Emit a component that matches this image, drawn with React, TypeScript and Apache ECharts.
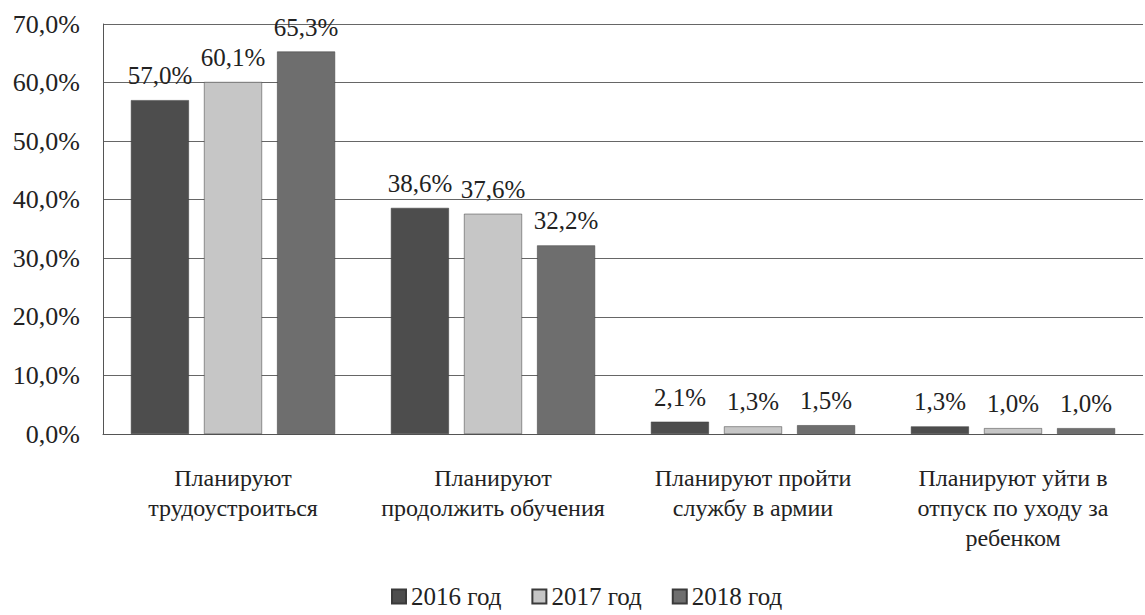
import React, { useEffect, useRef } from "react";
import * as echarts from "echarts";

const categories = [
  "Планируют\nтрудоустроиться",
  "Планируют\nпродолжить обучения",
  "Планируют пройти\nслужбу в армии",
  "Планируют уйти в\nотпуск по уходу за\nребенком",
];
const seriesNames = ["2016 год", "2017 год", "2018 год"];
const values2016 = [57.0, 38.6, 2.1, 1.3];
const values2017 = [60.1, 37.6, 1.3, 1.0];
const values2018 = [65.3, 32.2, 1.5, 1.0];
const colors = ["#4d4d4d", "#c6c6c6", "#6e6e6e"];

const FONT = "Liberation Serif, Times New Roman, serif";
const fmt = (v: number) => v.toFixed(1).replace(".", ",") + "%";

export default function App() {
  const ref = useRef<HTMLDivElement>(null);
  useEffect(() => {
    if (!ref.current) return;
    const chart = echarts.init(ref.current, undefined, { renderer: "svg" });
    const data = [values2016, values2017, values2018];
    chart.setOption({
      animation: false,
      backgroundColor: "#ffffff",
      grid: { left: 103, right: 2, top: 24, bottom: 181 },
      legend: {
        top: 579,
        left: 386,
        itemWidth: 14,
        itemHeight: 14,
        itemGap: 30,
        icon: "rect",
        textStyle: { fontFamily: FONT, fontSize: 25, color: "#222" },
        data: seriesNames,
      },
      xAxis: {
        type: "category",
        data: categories,
        axisLine: { show: true, lineStyle: { color: "#555", width: 1 } },
        axisTick: { show: false },
        axisLabel: {
          fontFamily: FONT,
          fontSize: 24,
          color: "#222",
          lineHeight: 30,
          margin: 29,
          interval: 0,
        },
      },
      yAxis: {
        type: "value",
        min: 0,
        max: 70,
        interval: 10,
        axisLine: { show: true, lineStyle: { color: "#555", width: 1 } },
        axisTick: { show: false },
        splitLine: { show: true, lineStyle: { color: "#666", width: 1 } },
        axisLabel: {
          fontFamily: FONT,
          fontSize: 26,
          color: "#222",
          margin: 23,
          formatter: (v: number) => fmt(v),
        },
      },
      series: seriesNames.map((name, i) => ({
        name,
        type: "bar",
        data: data[i],
        barWidth: 58,
        barGap: "26%",
        itemStyle: { color: colors[i], borderColor: "#3a3a3a", borderWidth: 0.5 },
        label: {
          show: true,
          position: "top",
          distance: 12,
          fontFamily: FONT,
          fontSize: 25,
          color: "#222",
          formatter: (p: any) => fmt(p.value),
        },
      })),
    });
    return () => chart.dispose();
  }, []);
  return (
    <div
      ref={ref}
      style={{ position: "fixed", left: 0, top: 0, width: 1145, height: 615 }}
    />
  );
}
